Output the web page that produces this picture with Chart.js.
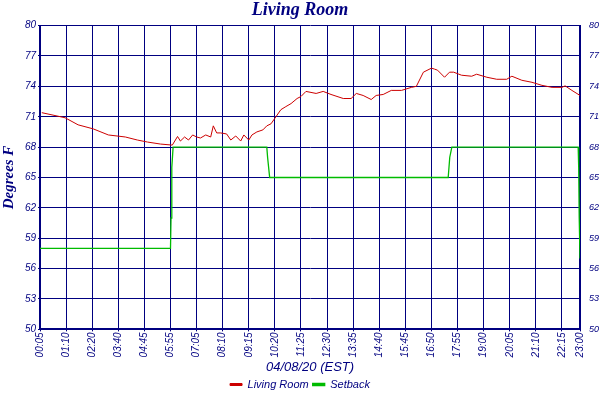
<!DOCTYPE html>
<html>
<head>
<meta charset="utf-8">
<script src="https://cdn.jsdelivr.net/npm/chart.js@4"></script>
<style>
html,body{margin:0;padding:0;background:#fff;}
#wrap{width:600px;height:400px;}
</style>
</head>
<body>
<div id="wrap"><canvas id="c" width="600" height="400"></canvas></div>
<script>
// x in grid units (one unit per labelled gridline)
var timeLabels = ['00:05','01:10','02:20','03:40','04:45','05:55','07:05','08:10','09:15','10:20','11:25',
  '12:30','13:35','14:40','15:45','16:50','17:55','19:00','20:05','21:10','22:15','23:00'];
var tickPos = [0,1,2,3,4,5,6,7,8,9,10,11,12,13,14,15,16,17,18,19,20,20.69];
var yTicks = [50,53,56,59,62,65,68,71,74,77,80];

var roomX = [0.07,0.96,1.46,2.04,2.62,3.27,3.73,4.12,4.62,5.07,5.27,5.38,5.54,5.69,5.85,6.0,6.15,6.35,6.54,6.64,
  6.77,6.92,7.15,7.31,7.5,7.69,7.81,8.0,8.12,8.31,8.54,8.69,8.85,9.04,9.23,9.42,9.62,9.85,10.0,10.19,10.58,
  10.85,11.15,11.62,11.92,12.12,12.38,12.69,12.88,13.15,13.46,13.85,14.23,14.42,14.69,15.0,15.12,15.23,15.5,
  15.69,15.85,16.15,16.54,16.73,17.12,17.5,17.88,18.08,18.46,18.85,19.23,19.62,20.0,20.12,20.38,20.69];
var roomT = [71.4,70.9,70.2,69.8,69.2,69.0,68.7,68.5,68.3,68.2,69.05,68.6,69.0,68.7,69.2,69.0,68.9,69.2,69.0,70.1,
  69.4,69.4,69.3,68.7,69.1,68.6,69.2,68.7,69.2,69.5,69.7,70.1,70.3,71.0,71.7,72.0,72.3,72.8,73.0,73.5,73.3,
  73.5,73.2,72.8,72.8,73.3,73.1,72.7,73.1,73.2,73.6,73.6,73.9,74.0,75.4,75.8,75.7,75.6,74.9,
  75.4,75.4,75.1,75.0,75.2,74.9,74.7,74.7,75.0,74.6,74.4,74.1,73.9,73.9,74.05,73.6,73.1];

var setX = [0,5.0,5.02,5.05,5.1,8.69,8.72,8.8,15.64,15.7,15.78,20.62,20.64,20.66,20.69];
var setT = [58,58,61,66,68,68,67,65,65,67,68,68,66,61,57];

function pts(xs, ys){ return xs.map(function(x,i){ return {x:x, y:ys[i]}; }); }

var navy = '#000080';
var tickFont = {family:'Liberation Sans', size:10, style:'italic'};

new Chart(document.getElementById('c'), {
  type: 'scatter',
  data: {
    datasets: [
      {label:'Living Room', data: pts(roomX, roomT), showLine:true, borderColor:'#cc0000', backgroundColor:'#cc0000',
       borderWidth:1, pointRadius:0, tension:0},
      {label:'Setback', data: pts(setX, setT), showLine:true, borderColor:'#00bb00', backgroundColor:'#00bb00',
       borderWidth:1.3, pointRadius:0, tension:0}
    ]
  },
  options: {
    responsive:false, animation:false,
    layout:{padding:{left:0,right:0,top:0,bottom:0}},
    plugins:{
      title:{display:true, text:'Living Room', color:navy, padding:{top:0,bottom:4},
        font:{family:'Liberation Serif', size:18, style:'italic', weight:'bold'}},
      legend:{position:'bottom', labels:{color:navy, boxWidth:12, boxHeight:2, padding:4,
        font:{family:'Liberation Sans', size:11, style:'italic'}}},
      tooltip:{enabled:false}
    },
    scales:{
      x:{type:'linear', min:0, max:20.69,
        afterBuildTicks:function(ax){ ax.ticks = tickPos.map(function(v){return {value:v};}); },
        ticks:{color:navy, font:tickFont, minRotation:90, maxRotation:90, autoSkip:false, padding:1,
          callback:function(v){ var i = tickPos.indexOf(v); return i>=0 ? timeLabels[i] : ''; }},
        grid:{color:navy, lineWidth:1, tickLength:2},
        border:{color:navy, width:2},
        title:{display:true, text:'04/08/20 (EST)', color:navy, padding:{top:1,bottom:0},
          font:{family:'Liberation Sans', size:13, style:'italic'}}
      },
      y:{min:50, max:80, position:'left',
        afterBuildTicks:function(ax){ ax.ticks = yTicks.map(function(v){return {value:v};}); },
        afterFit:function(ax){ ax.width = 40; },
        ticks:{color:navy, font:tickFont, padding:2},
        grid:{color:navy, lineWidth:1, tickLength:2},
        border:{color:navy, width:2},
        title:{display:true, text:'Degrees F', color:navy, padding:0,
          font:{family:'Liberation Serif', size:15, style:'italic', weight:'bold'}}
      },
      y2:{min:50, max:80, position:'right',
        afterBuildTicks:function(ax){ ax.ticks = yTicks.map(function(v){return {value:v};}); },
        afterFit:function(ax){ ax.width = 20; },
        ticks:{color:navy, font:{family:'Liberation Sans', size:9, style:'italic'}, padding:1},
        grid:{display:false},
        border:{color:navy, width:2}
      }
    }
  }
});
</script>
</body>
</html>
